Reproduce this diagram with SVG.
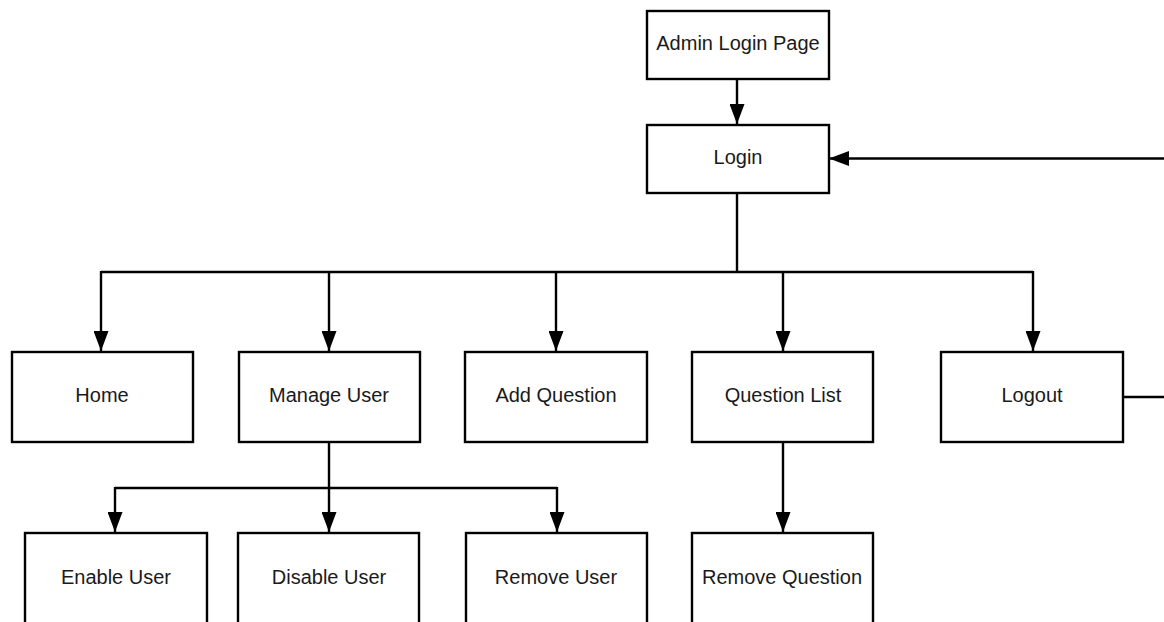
<svg xmlns="http://www.w3.org/2000/svg" width="1164" height="622" viewBox="0 0 1164 622">
  <defs>
    <marker id="arrow" markerWidth="20" markerHeight="15" refX="20" refY="7.5" viewBox="0 0 20 15" markerUnits="userSpaceOnUse" orient="auto">
      <path d="M0,0 L20,7.5 L0,15 Z" fill="#000"/>
    </marker>
    <style>
      .box { fill: #fff; stroke: #000; stroke-width: 2.4; }
      .lbl { font-family: "Liberation Sans", Arial, sans-serif; font-size: 20px; fill: #1a1a1a; text-anchor: middle; }
      .wire { fill: none; stroke: #000; stroke-width: 2.4; }
      .arr { marker-end: url(#arrow); }
    </style>
  </defs>
  <rect width="1164" height="622" fill="#fff"/>

  <g id="connectors">
    <!-- Admin Login Page to Login -->
    <path class="wire arr" d="M737,79 V124"/>
    <!-- Logout loops back to Login -->
    <path class="wire" d="M1123,397 H1166"/>
    <path class="wire arr" d="M1166,158.5 H829"/>
    <!-- Login fans out to the menu -->
    <path class="wire" d="M737,193 V272 M101,272 H1033"/>
    <path class="wire arr" d="M101,271 V351"/>
    <path class="wire arr" d="M329,271 V351"/>
    <path class="wire arr" d="M556,271 V351"/>
    <path class="wire arr" d="M783,271 V351"/>
    <path class="wire arr" d="M1033,271 V351"/>
    <!-- Manage User actions -->
    <path class="wire" d="M329,443 V488 M115,488 H557"/>
    <path class="wire arr" d="M115,487 V532"/>
    <path class="wire arr" d="M329,487 V532"/>
    <path class="wire arr" d="M557,487 V532"/>
    <!-- Question List action -->
    <path class="wire arr" d="M783,443 V532"/>
  </g>

  <g id="admin-login-page">
    <rect class="box" x="647" y="11" width="182" height="68"/>
    <text class="lbl" x="738" y="50">Admin Login Page</text>
  </g>
  <g id="login">
    <rect class="box" x="647" y="125" width="182" height="68"/>
    <text class="lbl" x="738" y="164">Login</text>
  </g>
  <g id="home">
    <rect class="box" x="12" y="352" width="181" height="90"/>
    <text class="lbl" x="102" y="402">Home</text>
  </g>
  <g id="manage-user">
    <rect class="box" x="239" y="352" width="181" height="90"/>
    <text class="lbl" x="329" y="402">Manage User</text>
  </g>
  <g id="add-question">
    <rect class="box" x="465" y="352" width="182" height="90"/>
    <text class="lbl" x="556" y="402">Add Question</text>
  </g>
  <g id="question-list">
    <rect class="box" x="692" y="352" width="181" height="90"/>
    <text class="lbl" x="783" y="402">Question List</text>
  </g>
  <g id="logout">
    <rect class="box" x="941" y="352" width="182" height="90"/>
    <text class="lbl" x="1032" y="402">Logout</text>
  </g>
  <g id="enable-user">
    <rect class="box" x="25" y="533" width="182" height="100"/>
    <text class="lbl" x="116" y="584">Enable User</text>
  </g>
  <g id="disable-user">
    <rect class="box" x="238" y="533" width="181" height="100"/>
    <text class="lbl" x="329" y="584">Disable User</text>
  </g>
  <g id="remove-user">
    <rect class="box" x="466" y="533" width="181" height="100"/>
    <text class="lbl" x="556" y="584">Remove User</text>
  </g>
  <g id="remove-question">
    <rect class="box" x="692" y="533" width="181" height="100"/>
    <text class="lbl" x="782" y="584">Remove Question</text>
  </g>
</svg>
